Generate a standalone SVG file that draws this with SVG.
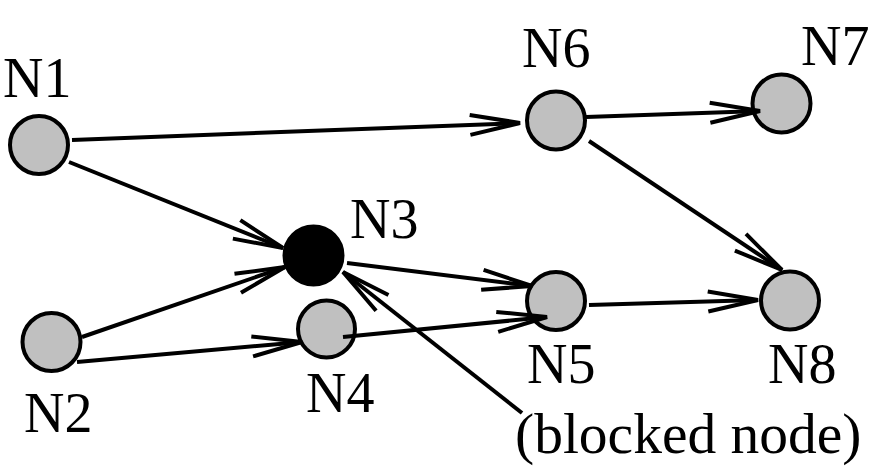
<svg xmlns="http://www.w3.org/2000/svg" width="875" height="473" viewBox="0 0 875 473">
<defs>
<marker id="arr" markerUnits="userSpaceOnUse" viewBox="-54 -14 58 28" refX="0" refY="0" markerWidth="58" markerHeight="28" orient="auto" overflow="visible">
<path d="M -50 -10 L 0 0 L -50 10" fill="none" stroke="#000" stroke-width="4" stroke-linejoin="miter"/>
</marker>
</defs>
<style>
.node{fill:#c0c0c0;stroke:#000;stroke-width:4}
.blocked{fill:#000;stroke:#000;stroke-width:4}
.lbl{font-family:"Liberation Serif","Times New Roman",serif;font-size:56px;fill:#000}
.note{font-size:57.5px}
.edge{stroke:#000;stroke-width:4;fill:none}
.arrow{marker-end:url(#arr)}
</style>
<rect width="875" height="473" fill="#fff"/>
<g id="N1"><circle class="node" cx="39" cy="145" r="29"/><text class="lbl" x="3" y="97">N1</text></g>
<g id="N2"><circle class="node" cx="51.5" cy="342" r="29"/><text class="lbl" x="24" y="432">N2</text></g>
<g id="N3"><circle class="blocked" cx="313.5" cy="255.5" r="29"/><text class="lbl" x="350" y="238">N3</text></g>
<g id="N4"><circle class="node" cx="326.5" cy="329" r="28.5"/><text class="lbl" x="306" y="412">N4</text></g>
<g id="N5"><circle class="node" cx="556" cy="301" r="29"/><text class="lbl" x="527" y="383">N5</text></g>
<g id="N6"><circle class="node" cx="556" cy="120.5" r="29"/><text class="lbl" x="522" y="67">N6</text></g>
<g id="N7"><circle class="node" cx="781.5" cy="103.5" r="29"/><text class="lbl" x="801" y="65">N7</text></g>
<g id="N8"><circle class="node" cx="790" cy="300.5" r="29"/><text class="lbl" x="768" y="383">N8</text></g>
<g id="connectors">
<line class="edge arrow" x1="72" y1="140" x2="520" y2="123"/>
<line class="edge arrow" x1="586" y1="117" x2="760" y2="111"/>
<line class="edge arrow" x1="589" y1="141" x2="782" y2="270"/>
<line class="edge arrow" x1="69" y1="162" x2="283" y2="248"/>
<line class="edge arrow" x1="82" y1="337" x2="285" y2="267"/>
<line class="edge arrow" x1="77" y1="362" x2="302" y2="342"/>
<line class="edge arrow" x1="343" y1="337" x2="547" y2="317"/>
<line class="edge arrow" x1="347" y1="263" x2="532" y2="286"/>
<line class="edge arrow" x1="589" y1="305" x2="758" y2="300"/>
</g>
<g id="blocked-note">
<line class="edge arrow" x1="522" y1="413" x2="343" y2="272"/>
<text class="lbl note" x="515" y="453">(blocked node)</text>
</g>
</svg>
